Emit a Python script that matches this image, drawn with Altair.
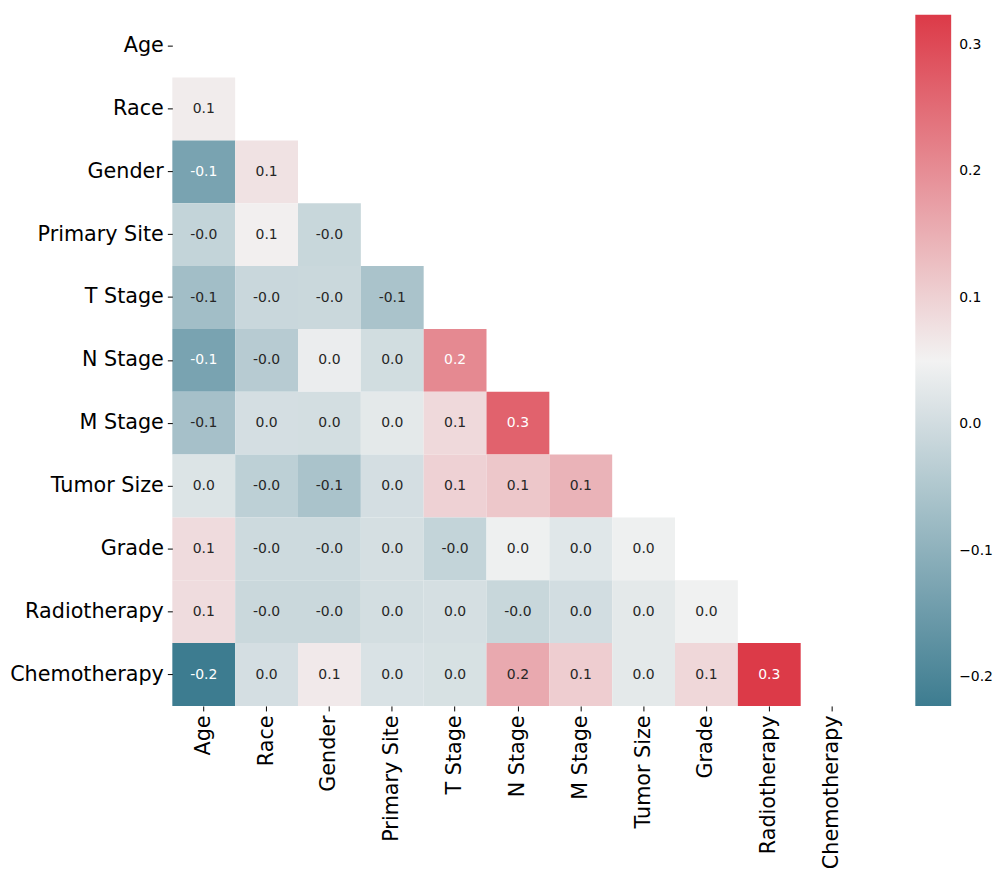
import altair as alt
import pandas as pd

names = ["Age", "Race", "Gender", "Primary Site", "T Stage", "N Stage",
         "M Stage", "Tumor Size", "Grade", "Radiotherapy", "Chemotherapy"]

# lower-triangle correlation values, one list per row (columns in `names` order)
race = [0.060]
gender = [-0.132, 0.075]
primary_site = [-0.020, 0.055, -0.013]
t_stage = [-0.070, -0.012, -0.010, -0.059]
n_stage = [-0.132, -0.039, 0.040, 0.001, 0.206]
m_stage = [-0.065, 0.005, 0.003, 0.029, 0.087, 0.265]
tumor_size = [0.018, -0.029, -0.058, 0.005, 0.099, 0.115, 0.144]
grade = [0.084, -0.005, -0.005, 0.007, -0.020, 0.045, 0.024, 0.045]
radiotherapy = [0.083, -0.010, -0.010, 0.004, 0.006, -0.013, 0.002, 0.029, 0.048]
chemotherapy = [-0.223, 0.005, 0.064, 0.013, 0.010, 0.159, 0.105, 0.029, 0.090, 0.324]

colorbar_ticks = [-0.2, -0.1, 0.0, 0.1, 0.2, 0.3]

rows = [race, gender, primary_site, t_stage, n_stage, m_stage,
        tumor_size, grade, radiotherapy, chemotherapy]

records = []
for i, vals in enumerate(rows, start=1):
    for j, v in enumerate(vals):
        records.append({"row": names[i], "col": names[j], "value": v,
                        "label": f"{v:.1f}"})
df = pd.DataFrame(records)

vmin = float(df["value"].min())
vmax = float(df["value"].max())
mid = (vmin + vmax) / 2

FONT = "DejaVu Sans"

axis_common = dict(title=None, labelFont=FONT, labelFontSize=20.8, labelColor="black",
                   tickColor="black", tickSize=5, labelPadding=4, domain=False,
                   grid=False)

base = alt.Chart(df).encode(
    x=alt.X("col:N", sort=names,
            scale=alt.Scale(domain=names, paddingInner=0, paddingOuter=0),
            axis=alt.Axis(labelAngle=-90, **axis_common)),
    y=alt.Y("row:N", sort=names,
            scale=alt.Scale(domain=names, paddingInner=0, paddingOuter=0),
            axis=alt.Axis(**axis_common)),
)

rect = base.mark_rect().encode(
    color=alt.Color(
        "value:Q",
        scale=alt.Scale(domain=[vmin, mid, vmax],
                        range=["#3d7c90", "#f2f2f2", "#dc3a48"],
                        interpolate="rgb"),
        legend=alt.Legend(orient="none", legendX=746, legendY=0,
                          direction="vertical", gradientLength=694,
                          gradientThickness=36, title=None,
                          values=colorbar_ticks, format=".1f",
                          labelFont=FONT, labelFontSize=14, labelColor="black",
                          labelOffset=8, gradientStrokeWidth=0),
    )
)

text = base.mark_text(font=FONT, fontSize=14).encode(
    text="label:N",
    color=alt.condition("datum.value < -0.1 || datum.value > 0.18",
                        alt.value("white"), alt.value("#262626")),
)

chart = (rect + text).properties(
    width=694, height=694,
    padding={"left": 165, "top": 5, "right": 130, "bottom": 180},
    autosize=alt.AutoSizeParams(type="none"),
).configure_view(stroke=None)

chart.save("out.html", embed_options={"renderer": "svg", "actions": False})
